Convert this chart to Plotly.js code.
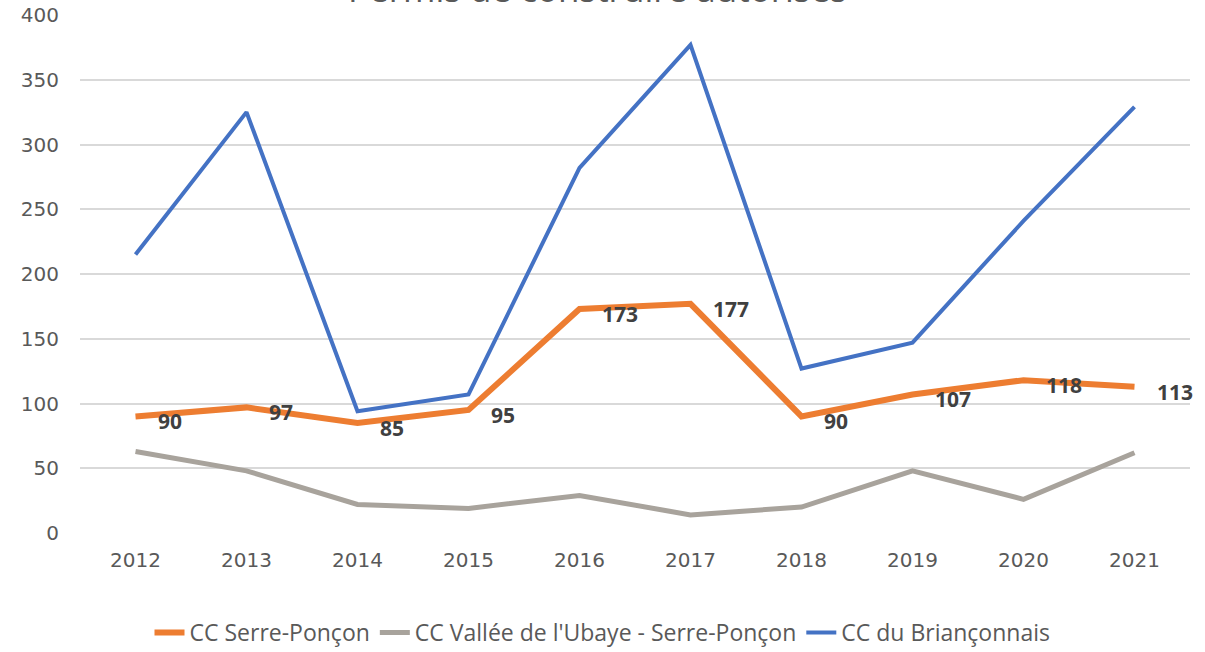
<!DOCTYPE html>
<html>
<head>
<meta charset="utf-8">
<script src="https://cdn.plot.ly/plotly-3.0.1.min.js"></script>
<style>html,body{margin:0;padding:0;background:#fff;}#chart{width:1205px;height:652px;}</style>
</head>
<body>
<div id="chart"></div>
<script>
const years = ['2012','2013','2014','2015','2016','2017','2018','2019','2020','2021'];
const serrePoncon = [90, 97, 85, 95, 173, 177, 90, 107, 118, 113];
const ubaye = [63, 48, 22, 19, 29, 14, 20, 48, 26, 62];
const brianconnais = [215, 325, 94, 107, 282, 377, 127, 147, 241, 329];
const yTicks = [0, 50, 100, 150, 200, 250, 300, 350, 400];

const tickFont = {family: '"DejaVu Sans", "Open Sans", sans-serif', size: 20, color: '#595959'};

const traces = [
  {x: years, y: serrePoncon, name: 'CC Serre-Ponçon', type: 'scatter', mode: 'lines',
   line: {color: '#ED7D31', width: 6}},
  {x: years, y: ubaye, name: "CC Vallée de l'Ubaye - Serre-Ponçon", type: 'scatter', mode: 'lines',
   line: {color: '#A8A39C', width: 5}},
  {x: years, y: brianconnais, name: 'CC du Briançonnais', type: 'scatter', mode: 'lines',
   line: {color: '#4472C4', width: 4}}
];

const labelAnnotations = years.map((yr, i) => ({
  x: i, y: serrePoncon[i], xref: 'x', yref: 'y', text: String(serrePoncon[i]),
  showarrow: false, xanchor: 'left', yanchor: 'middle', xshift: 20, yshift: -5,
  font: {family: '"Open Sans", sans-serif', size: 21, color: '#404040', weight: 'bold'}
}));

const layout = {
  width: 1205, height: 652,
  margin: {l: 80, r: 15, t: 15, b: 119},
  paper_bgcolor: '#ffffff', plot_bgcolor: '#ffffff',
  showlegend: true,
  legend: {orientation: 'h', x: 0.5, xanchor: 'center', xref: 'container', yref: 'container', y: 0.03, yanchor: 'middle',
           font: {family: '"Open Sans", "DejaVu Sans", sans-serif', size: 23, color: '#595959'}, traceorder: 'normal'},
  xaxis: {type: 'category', range: [-0.5, 9.5], showgrid: false, zeroline: false, showline: false,
          ticks: '', tickfont: tickFont, ticklabelstandoff: 13, automargin: false},
  yaxis: {range: [0, 400], tickvals: yTicks, showgrid: true, gridcolor: '#D9D9D9', gridwidth: 2,
          zeroline: false, showline: false, ticks: '', tickfont: tickFont, ticklabelstandoff: 20, automargin: false},
  annotations: [{text: 'Permis de construire autorisés', xref: 'paper', yref: 'paper', x: 0.466, y: 1,
                 xanchor: 'center', yanchor: 'middle', yshift: 27, showarrow: false,
                 font: {family: '"Open Sans", sans-serif', size: 35, color: '#595959'}}].concat(labelAnnotations)
};

Plotly.newPlot('chart', traces, layout, {displayModeBar: false, staticPlot: true});
</script>
</body>
</html>
